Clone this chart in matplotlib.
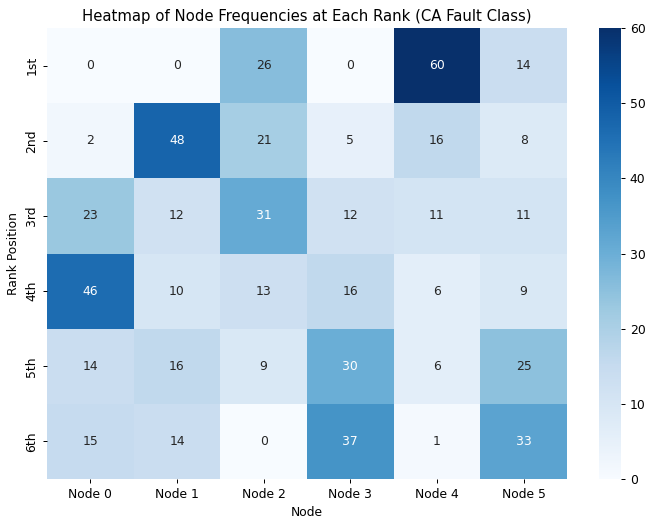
import numpy as np
import pandas as pd
import matplotlib
matplotlib.use('Agg')
import matplotlib.pyplot as plt
import seaborn as sns

# data
nodes = ['Node 0', 'Node 1', 'Node 2', 'Node 3', 'Node 4', 'Node 5']
ranks = ['1st', '2nd', '3rd', '4th', '5th', '6th']
counts = [
    [0, 0, 26, 0, 60, 14],
    [2, 48, 21, 5, 16, 8],
    [23, 12, 31, 12, 11, 11],
    [46, 10, 13, 16, 6, 9],
    [14, 16, 9, 30, 6, 25],
    [15, 14, 0, 37, 1, 33],
]

df = pd.DataFrame(counts, index=ranks, columns=nodes)

# reference looks scaled down ~0.89, so render at lower dpi
dpi = 89
fig = plt.figure(figsize=(645 / dpi, 516 / dpi), dpi=dpi)
ax = fig.add_axes([0.0729, 0.0717, 0.806, 0.874])
cax = fig.add_axes([0.9287, 0.0717, 0.0341, 0.874])
sns.heatmap(df, annot=True, fmt='d', cmap='Blues', ax=ax, cbar_ax=cax)
ax.set_title('Heatmap of Node Frequencies at Each Rank (CA Fault Class)')
ax.set_xlabel('Node')
ax.set_ylabel('Rank Position')

plt.savefig('out.png', dpi=dpi)
